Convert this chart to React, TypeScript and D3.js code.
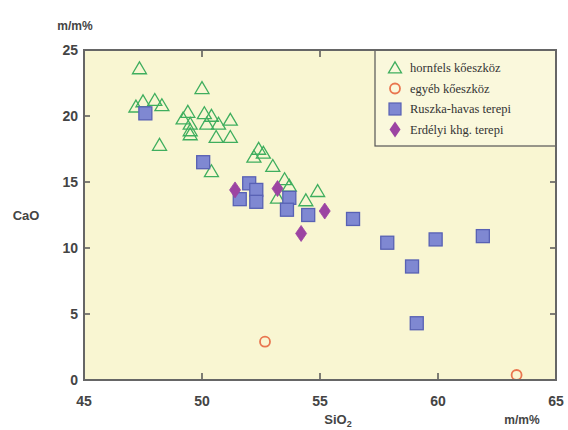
import React from "react";
import * as d3 from "d3";

const xTicks = [45, 50, 55, 60, 65];
const yTicks = [0, 5, 10, 15, 20, 25];

const hornfels: [number, number][] = [
  [47.35, 23.6], [50.0, 22.1], [47.5, 21.1], [48.0, 21.2], [48.3, 20.8], [47.2, 20.7],
  [49.4, 20.3], [49.2, 19.8], [50.1, 20.2], [50.4, 20.0], [49.5, 19.4], [50.2, 19.4],
  [50.7, 19.4], [51.2, 19.7], [49.5, 18.9], [50.6, 18.4], [51.2, 18.4], [49.5, 18.6],
  [48.2, 17.8], [52.4, 17.5], [52.2, 16.9], [52.6, 17.2], [53.0, 16.2], [50.4, 15.8],
  [53.5, 15.2], [53.7, 14.7], [53.2, 13.8], [54.4, 13.6], [54.9, 14.3],
];
const egyeb: [number, number][] = [[52.67, 2.9], [63.33, 0.38]];
const ruszka: [number, number][] = [
  [47.6, 20.2], [50.05, 16.5], [52.0, 14.9], [52.3, 14.4], [51.6, 13.7], [52.3, 13.5],
  [53.7, 13.8], [53.6, 12.9], [54.5, 12.5], [56.4, 12.2], [57.85, 10.4], [59.9, 10.65],
  [61.9, 10.9], [58.9, 8.6], [59.1, 4.3],
];
const erdelyi: [number, number][] = [[51.4, 14.4], [53.2, 14.5], [55.2, 12.8], [54.2, 11.1]];

const legendLabels = ["hornfels kőeszköz", "egyéb kőeszköz", "Ruszka-havas terepi", "Erdélyi khg. terepi"];

const L = 84, R = 556, T = 50, B = 380;
const green = "#3fae5e", orange = "#e9764f", sqFill = "#7f88d2", sqStroke = "#5861b4", purple = "#9c44a2";

const tri = (cx: number, cy: number, s = 7) =>
  `M${cx},${cy - s * 0.95}L${cx + s},${cy + s * 0.75}L${cx - s},${cy + s * 0.75}Z`;
const dia = (cx: number, cy: number) => `M${cx},${cy - 8}L${cx + 5.5},${cy}L${cx},${cy + 8}L${cx - 5.5},${cy}Z`;

export default function App() {
  const x = d3.scaleLinear().domain([45, 65]).range([L, R]);
  const y = d3.scaleLinear().domain([0, 25]).range([B, T]);
  const axisFont = "'Liberation Sans', Arial, sans-serif";
  const tickCol = "#444";
  return (
    <svg width={568} height={430} style={{ position: "absolute", left: 0, top: 0, background: "#fff" }}>
      <rect x={L} y={T} width={R - L} height={B - T} fill="#f9f6d2" />
      {xTicks.slice(1, -1).map((t) => (
        <g key={"xt" + t}>
          <line x1={x(t)} x2={x(t)} y1={B} y2={B - 7} stroke="#555" strokeWidth={1.5} />
          <line x1={x(t)} x2={x(t)} y1={T} y2={T + 7} stroke="#555" strokeWidth={1.5} />
        </g>
      ))}
      {yTicks.slice(1, -1).map((t) => (
        <g key={"yt" + t}>
          <line x1={L} x2={L + 6} y1={y(t)} y2={y(t)} stroke="#555" strokeWidth={1.5} />
          <line x1={R} x2={R - 6} y1={y(t)} y2={y(t)} stroke="#555" strokeWidth={1.5} />
        </g>
      ))}
      {hornfels.map(([a, b], i) => (
        <path key={"h" + i} d={tri(x(a), y(b))} fill="none" stroke={green} strokeWidth={1.3} />
      ))}
      {ruszka.map(([a, b], i) => (
        <rect key={"r" + i} x={x(a) - 6.5} y={y(b) - 6.5} width={13} height={13} fill={sqFill} stroke={sqStroke} strokeWidth={1.3} />
      ))}
      {erdelyi.map(([a, b], i) => (
        <path key={"e" + i} d={dia(x(a), y(b))} fill={purple} stroke={purple} strokeWidth={0.8} />
      ))}
      {egyeb.map(([a, b], i) => (
        <circle key={"c" + i} cx={x(a)} cy={y(b)} r={5} fill="none" stroke={orange} strokeWidth={1.8} />
      ))}
      <rect x={375} y={T} width={R - 375} height={96} fill="#faf8dc" stroke="#555" strokeWidth={1.2} />
      {legendLabels.map((lab, i) => {
        const cy = 68 + i * 20.5;
        return (
          <g key={"lg" + i}>
            {i === 0 && <path d={tri(395, cy, 6.5)} fill="none" stroke={green} strokeWidth={1.3} />}
            {i === 1 && <circle cx={395} cy={cy} r={5} fill="none" stroke={orange} strokeWidth={1.8} />}
            {i === 2 && <rect x={389} y={cy - 6} width={12} height={12} fill={sqFill} stroke={sqStroke} strokeWidth={1.2} />}
            {i === 3 && <path d={dia(395, cy)} fill={purple} />}
            <text x={410} y={cy + 4} fontFamily="'Liberation Serif', 'Times New Roman', serif" fontSize={12.5} fill="#333">
              {lab}
            </text>
          </g>
        );
      })}
      <rect x={L} y={T} width={R - L} height={B - T} fill="none" stroke="#666" strokeWidth={2} />
      {yTicks.map((t) => (
        <text key={"yl" + t} x={L - 6} y={y(t) + 5} textAnchor="end" fontFamily={axisFont} fontSize={14} fontWeight="bold" fill={tickCol}>
          {t}
        </text>
      ))}
      {xTicks.map((t) => (
        <text key={"xl" + t} x={x(t)} y={B + 26} textAnchor="middle" fontFamily={axisFont} fontSize={14} fontWeight="bold" fill={tickCol}>
          {t}
        </text>
      ))}
      <text x={75} y={30} textAnchor="middle" fontFamily={axisFont} fontSize={12} fontWeight="bold" fill={tickCol}>m/m%</text>
      <text x={26} y={220} textAnchor="middle" fontFamily={axisFont} fontSize={13} fontWeight="bold" fill={tickCol}>CaO</text>
      <text x={338} y={424} textAnchor="middle" fontFamily={axisFont} fontSize={13} fontWeight="bold" fill={tickCol}>
        SiO<tspan fontSize={9} dy={3}>2</tspan>
      </text>
      <text x={522} y={424} textAnchor="middle" fontFamily={axisFont} fontSize={12} fontWeight="bold" fill={tickCol}>m/m%</text>
    </svg>
  );
}
